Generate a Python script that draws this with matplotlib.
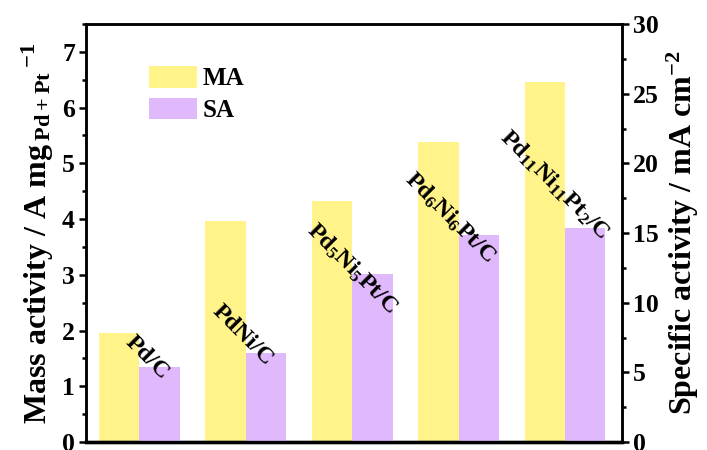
import matplotlib
matplotlib.use("Agg")
import matplotlib.pyplot as plt
from matplotlib.ticker import MultipleLocator
import numpy as np

plt.rcParams["font.family"] = ["Liberation Serif", "DejaVu Serif"]
plt.rcParams["font.weight"] = "bold"
plt.rcParams["mathtext.fontset"] = "custom"
plt.rcParams["mathtext.rm"] = "Liberation Serif:bold"
plt.rcParams["mathtext.bf"] = "Liberation Serif:bold"
plt.rcParams["mathtext.it"] = "Liberation Serif:bold"

# Catalyst samples
catalysts = [r"Pd/C", r"PdNi/C", r"Pd$_5$Ni$_5$Pt/C", r"Pd$_6$Ni$_6$Pt/C",
             r"Pd$_{11}$Ni$_{11}$Pt$_2$/C"]
# Mass activity (A mg_Pd+Pt^-1), left axis
mass_activity = [1.96, 3.97, 4.32, 5.39, 6.46]
# Specific activity (mA cm^-2), right axis
specific_activity = [5.38, 6.41, 12.06, 14.86, 15.34]
# Label anchor points: (x offset from group centre, height on left axis)
label_dx = [0.07, -0.03, 0.0, -0.08, -0.10]
label_y = [1.51, 1.92, 3.11, 4.02, 4.61]

yellow = "#FFF38A"
purple = "#E0B8FC"

fig = plt.figure(figsize=(7.07, 4.5), dpi=100)
ax = fig.add_axes([86 / 707, 8 / 450, 536 / 707, 418 / 450])
ax2 = ax.twinx()

x = np.arange(len(catalysts))
w = 0.38
b1 = ax.bar(x - w / 2, mass_activity, width=w, color=yellow, label="MA")
b2 = ax2.bar(x + w / 2, specific_activity, width=w, color=purple, label="SA")

ax.set_xlim(-0.5, 4.535)
ax.set_ylim(0, 7.5)
ax2.set_ylim(0, 30)

ax.set_xticks([])
ax.yaxis.set_major_locator(MultipleLocator(1))
ax.yaxis.set_minor_locator(MultipleLocator(0.5))
ax2.yaxis.set_major_locator(MultipleLocator(5))
ax2.yaxis.set_minor_locator(MultipleLocator(2.5))

for a in (ax, ax2):
    for s in a.spines.values():
        s.set_linewidth(1.8)
    a.spines["bottom"].set_linewidth(2.4)
    a.tick_params(axis="y", which="major", direction="out", length=5, width=1.8,
                  labelsize=18.5, pad=3)
    a.tick_params(axis="y", which="minor", direction="out", length=3, width=1.8)
ax.tick_params(axis="x", length=0)
ax2.tick_params(axis="x", length=0)

for lab in ax.get_yticklabels() + ax2.get_yticklabels():
    lab.set_fontweight("bold")

ax.set_ylabel(r"Mass activity / A mg$\,_{\mathrm{Pd+Pt}}\,{}^{\mathrm{-1}}$",
              fontsize=23, fontweight="bold", labelpad=4)
ax2.set_ylabel(r"Specific activity / mA cm$^{\mathrm{-2}}$",
               fontsize=23, fontweight="bold", labelpad=4)

# Sample names written diagonally over each bar pair
for i, name in enumerate(catalysts):
    yv = label_y[i] * 4
    ax2.text(i + label_dx[i], yv, name, rotation=-45, rotation_mode="anchor",
             ha="center", va="center", fontsize=17.5, fontweight="bold", zorder=5)

leg = ax2.legend(handles=[b1, b2], labels=["MA", "SA"], loc="upper left",
                 bbox_to_anchor=((149 - 86) / 536, 1 - (66 - 24) / 418),
                 frameon=False, fontsize=18, handlelength=1.9, handleheight=0.95,
                 handletextpad=0.25, labelspacing=0.3, borderpad=0,
                 borderaxespad=0)
for t in leg.get_texts():
    t.set_fontweight("bold")

fig.savefig("out.png", dpi=100)
